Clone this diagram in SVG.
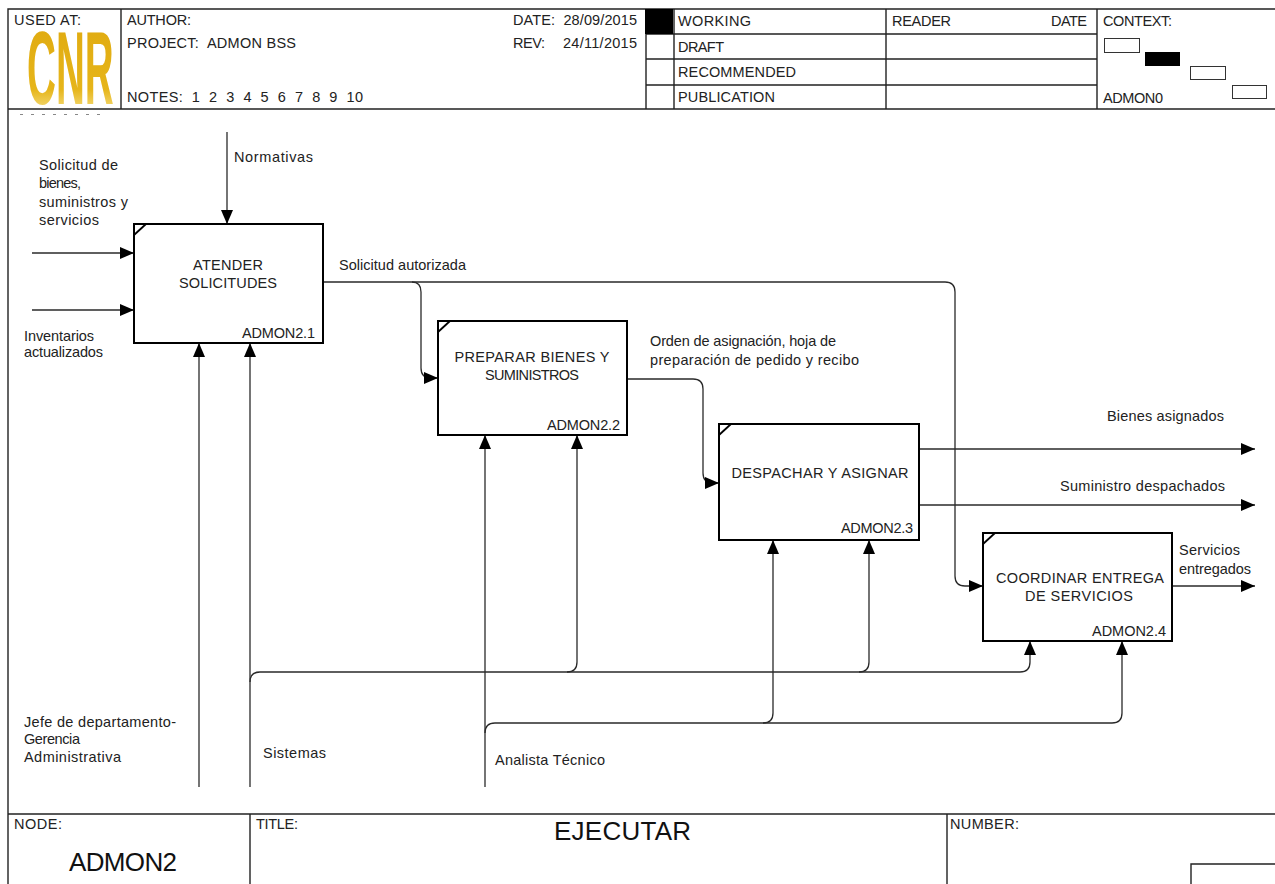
<svg xmlns="http://www.w3.org/2000/svg" width="1275" height="884" viewBox="0 0 1275 884">
<style>
text{font-family:"Liberation Sans",Arial,sans-serif;font-size:14.5px;fill:#222}
.f{fill:none;stroke:#222;stroke-width:1.4}
.c{fill:none;stroke:#2a2a2a;stroke-width:1.3}
.a{marker-end:url(#a)}
.b{fill:#fff;stroke:#000;stroke-width:2}
.k{fill:none;stroke:#000;stroke-width:1.8}
.w{fill:#fff;stroke:#333;stroke-width:1}
.m{text-anchor:middle}
.big{font-size:26px;fill:#111}
</style>
<defs>
<marker id="a" markerUnits="userSpaceOnUse" markerWidth="15" markerHeight="14" refX="14" refY="7" orient="auto"><path d="M0 1L14 7L0 13Z" fill="#000"/></marker>
<linearGradient id="g" x1="0" y1="0" x2="0" y2="1"><stop offset="0" stop-color="#dfa90f"/><stop offset=".68" stop-color="#e6b51a"/><stop offset="1" stop-color="#fff8c0"/></linearGradient>
</defs>
<g id="frame">
<rect width="1275" height="884" fill="#fff"/>
<path class="f" d="M8 884V9H1275M8 109H1275M121 9V109M646 9V109M674 9V109M646 34H1097M646 59H1097M646 85H1097M886 9V109M1097 9V109M8 814H1275M250 814V884M947 814V884M1191 884V864H1275"/>
<path d="M20 114.5H108" stroke="#888" stroke-width="1" stroke-dasharray="3 8" fill="none"/>
<rect x="645" y="9" width="28" height="25" fill="#000"/>
<rect class="w" x="1104.5" y="38.5" width="35" height="14"/>
<rect x="1145" y="52" width="35" height="14" fill="#000"/>
<rect class="w" x="1190.5" y="66.5" width="35" height="13"/>
<rect class="w" x="1232.5" y="85.5" width="34" height="13"/>
</g>
<g id="title-block">
<text transform="translate(27,104) scale(.385,1)" style="font-size:104px;font-weight:700;fill:url(#g)">CNR</text>
<text x="14" y="25" textLength="67">USED AT:</text>
<text x="127" y="25" textLength="64">AUTHOR:</text>
<text x="127" y="48" textLength="169" xml:space="preserve">PROJECT:  ADMON BSS</text>
<text x="127" y="102" textLength="236" xml:space="preserve">NOTES:  1  2  3  4  5  6  7  8  9  10</text>
<text x="513" y="25" textLength="124" xml:space="preserve">DATE:  28/09/2015</text>
<text x="513" y="48" textLength="32">REV:</text>
<text x="563" y="48" textLength="74">24/11/2015</text>
<text x="678" y="26" textLength="73">WORKING</text>
<text x="678" y="52" textLength="46">DRAFT</text>
<text x="678" y="77" textLength="118">RECOMMENDED</text>
<text x="678" y="102" textLength="97">PUBLICATION</text>
<text x="892" y="26" textLength="59">READER</text>
<text x="1051" y="26" textLength="36">DATE</text>
<text x="1103" y="26" textLength="69">CONTEXT:</text>
<text x="1103" y="103" textLength="60">ADMON0</text>
<text x="14" y="829" textLength="48">NODE:</text>
<text x="256" y="829" textLength="42">TITLE:</text>
<text x="554" y="840" class="big" textLength="137">EJECUTAR</text>
<text x="950" y="829" textLength="69">NUMBER:</text>
<text x="69" y="871" class="big" textLength="108">ADMON2</text>
</g>
<g id="connectors">
<path class="c a" d="M227 132V224"/>
<path class="c a" d="M32 253H134"/>
<path class="c a" d="M32 310H134"/>
<path class="c a" d="M199 787V343"/>
<path class="c a" d="M250 787V343"/>
<path class="c a" d="M323 282H945Q955 282 955 292V576Q955 586 965 586H983"/>
<path class="c a" d="M412 282Q421 282 421 292V368Q421 378 431 378H438"/>
<path class="c a" d="M627 379H693Q703 379 703 389V473Q703 483 713 483H719"/>
<path class="c a" d="M919 449H1255"/>
<path class="c a" d="M919 505H1255"/>
<path class="c a" d="M1172 586H1255"/>
<path class="c a" d="M250 682Q250 672 260 672H1020Q1030 672 1030 662V641"/>
<path class="c a" d="M567 672Q577 672 577 662V435"/>
<path class="c a" d="M859 672Q869 672 869 662V540"/>
<path class="c a" d="M485 787V435"/>
<path class="c a" d="M485 733Q485 723 495 723H1112Q1122 723 1122 713V641"/>
<path class="c a" d="M763 723Q773 723 773 713V540"/>
</g>
<g id="labels">
<text x="234" y="162" textLength="79">Normativas</text>
<text x="39" y="170" textLength="79">Solicitud de</text>
<text x="39" y="188" textLength="42">bienes,</text>
<text x="39" y="207" textLength="89">suministros y</text>
<text x="39" y="225" textLength="60">servicios</text>
<text x="24" y="341" textLength="70">Inventarios</text>
<text x="24" y="357" textLength="79">actualizados</text>
<text x="339" y="270" textLength="127">Solicitud autorizada</text>
<text x="650" y="346" textLength="186">Orden de asignación, hoja de</text>
<text x="650" y="365" textLength="209">preparación de pedido y recibo</text>
<text x="1107" y="421" textLength="117">Bienes asignados</text>
<text x="1060" y="491" textLength="165">Suministro despachados</text>
<text x="1179" y="555" textLength="61">Servicios</text>
<text x="1179" y="574" textLength="72">entregados</text>
<text x="24" y="727" textLength="152">Jefe de departamento-</text>
<text x="24" y="744" textLength="56">Gerencia</text>
<text x="24" y="762" textLength="97">Administrativa</text>
<text x="263" y="758" textLength="63">Sistemas</text>
<text x="495" y="765" textLength="110">Analista Técnico</text>
</g>
<g id="n1">
<rect class="b" x="134" y="224" width="189" height="119"/>
<path class="k" d="M134 235L146 224"/>
<text class="m" x="228" y="270" textLength="70">ATENDER</text>
<text class="m" x="228" y="288" textLength="98">SOLICITUDES</text>
<text x="242" y="338" textLength="73">ADMON2.1</text>
</g>
<g id="n2">
<rect class="b" x="438" y="321" width="189" height="114"/>
<path class="k" d="M438 332L450 321"/>
<text class="m" x="532" y="362" textLength="155">PREPARAR BIENES Y</text>
<text class="m" x="532" y="380" textLength="94">SUMINISTROS</text>
<text x="547" y="430" textLength="73">ADMON2.2</text>
</g>
<g id="n3">
<rect class="b" x="719" y="424" width="200" height="116"/>
<path class="k" d="M719 435L731 424"/>
<text class="m" x="820" y="478" textLength="177">DESPACHAR Y ASIGNAR</text>
<text x="841" y="533" textLength="72">ADMON2.3</text>
</g>
<g id="n4">
<rect class="b" x="983" y="533" width="189" height="108"/>
<path class="k" d="M983 544L995 533"/>
<text class="m" x="1080" y="583" textLength="168">COORDINAR ENTREGA</text>
<text class="m" x="1079" y="601" textLength="108">DE SERVICIOS</text>
<text x="1092" y="636" textLength="74">ADMON2.4</text>
</g>
</svg>
